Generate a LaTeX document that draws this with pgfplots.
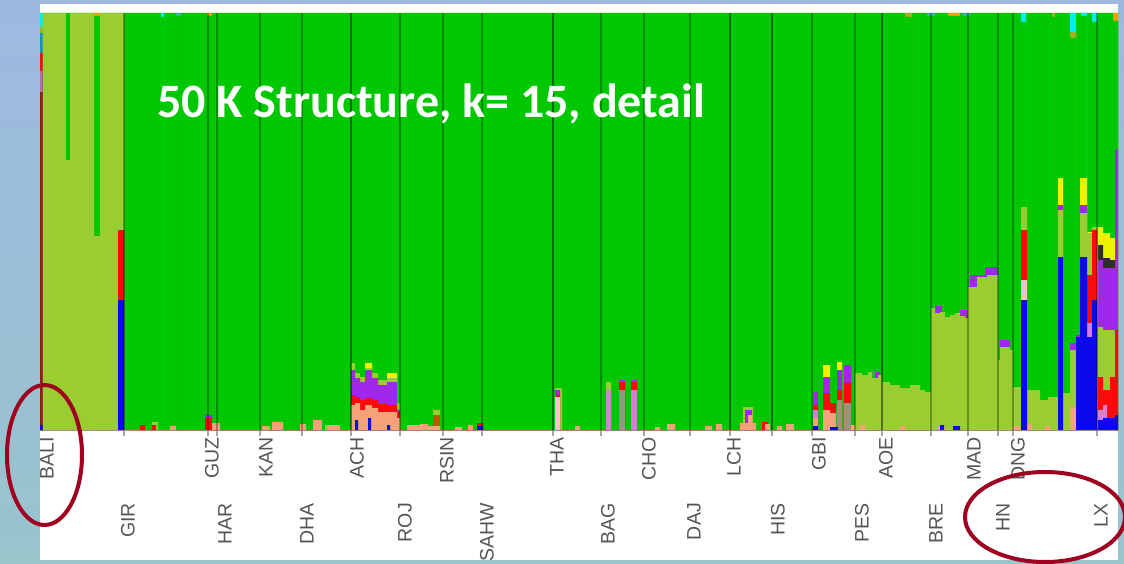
\documentclass[border=0pt]{standalone}
\usepackage{pgfplots}
\pgfplotsset{compat=1.18}
\usepackage{fontspec}
\setmainfont{Liberation Sans}
\newfontfamily\titlefont{Carlito}

\definecolor{sgreen}{RGB}{0,200,0}
\definecolor{syg}{RGB}{154,205,50}
\definecolor{ssalmon}{RGB}{245,162,122}
\definecolor{sred}{RGB}{250,10,10}
\definecolor{sblue}{RGB}{10,10,235}
\definecolor{spurple}{RGB}{160,40,235}
\definecolor{sviolet}{RGB}{215,125,215}
\definecolor{spink}{RGB}{255,190,200}
\definecolor{syellow}{RGB}{235,245,0}
\definecolor{sblack}{RGB}{45,45,45}
\definecolor{staupe}{RGB}{160,144,128}
\definecolor{sbrown}{RGB}{176,96,0}
\definecolor{scyan}{RGB}{0,240,240}
\definecolor{sorange}{RGB}{240,160,0}
\definecolor{solive}{RGB}{160,176,32}
\definecolor{steal}{RGB}{64,176,160}
\definecolor{smauve}{RGB}{176,144,144}
\definecolor{sdarkred}{RGB}{140,32,32}
\definecolor{stealblue}{RGB}{24,144,192}
\definecolor{slilac}{RGB}{176,112,176}
\definecolor{edgered}{RGB}{160,0,32}
\definecolor{bgtop}{RGB}{157,185,225}
\definecolor{bgbot}{RGB}{152,196,204}
\definecolor{labgray}{RGB}{85,85,85}

\pgfplotsset{lay/.style={const plot, draw=none, fill=#1, forget plot}}

\begin{document}
\begin{tikzpicture}[x=1pt,y=1pt,
  lab/.style={rotate=90, anchor=east, inner sep=0pt, text=labgray, font=\fontsize{19.5}{20}\selectfont}]
\useasboundingbox (0,0) rectangle (1124,563);
\clip (0,0) rectangle (1124,563);
\shade[top color=bgtop, bottom color=bgbot] (0,0) rectangle (1124,563);
\fill[white] (40,3) rectangle (1118,559);
\begin{axis}[at={(40,133)}, anchor=south west, scale only axis,
  width=1078pt, height=417pt,
  xmin=40, xmax=1118, ymin=0, ymax=417,
  axis line style={draw=none},
  ytick=\empty,
  xtick={124,208,217,260,302,351,400,443,482,553,601,644,690,730,772,812,855,882,931,968,998,1013,1097},
  xticklabels={}, xtick pos=bottom, tick align=outside,
  major tick length=6pt,
  xtick style={draw=gray!70, line width=1.5pt},
  clip mode=individual]

% background ancestry (green)
\addplot[lay=sgreen] coordinates {(40,417) (1118,417)} \closedcycle;

% small components hanging from the top
\addplot[lay=sorange] coordinates {(94,417)(100,0)(207,417)(212,0)(948,417)(960,0)(1113,417)(1118,0)} \closedcycle;
\addplot[lay=smauve] coordinates {(118,417)(124,0)} \closedcycle;
\addplot[lay=scyan] coordinates {(161,417)(164,0)(1021,417)(1026,0)(1070,417)(1076,0)(1081,417)(1087,0)(1092,417)(1097,0)} \closedcycle;
\addplot[lay=solive] coordinates {(905,417)(912,0)(1052,417)(1055,0)} \closedcycle;
\addplot[lay=steal] coordinates {(176,417)(181,0)(927,417)(935,0)(962,417)(970,0)} \closedcycle;
\addplot[lay=solive] coordinates {(1070,398)(1076,0)} \closedcycle;
\addplot[lay=sgreen] coordinates {(94,414)(100,0)(118,414)(124,0)(161,413)(164,0)(176,414)(181,0)(207,414)(212,0)(905,413)(912,0)(927,414)(935,0)(948,414)(960,0)(962,414)(970,0)(1021,408)(1026,0)(1052,413)(1055,0)(1070,392)(1076,0)(1081,414)(1087,0)(1092,408)(1097,0)(1113,409)(1118,0)} \closedcycle;

% cumulative tops of the other clusters
\addplot[lay=syellow] coordinates {(40,0)(365,67)(372,0)(387,57)(397,0)(823,65)(830,0)(837,68)(842,0)(1058,252)(1063,0)(1080,252)(1087,198)(1092,0)(1098,203)(1103,197)(1110,192)(1115,0)(1118,0)} \closedcycle;
\addplot[lay=sblack] coordinates {(40,0)(1098,185)(1103,172)(1110,170)(1115,0)(1118,0)} \closedcycle;
\addplot[lay=spurple] coordinates {(40,0)(875,58)(880,0)(935,124)(942,0)(960,120)(968,0)(970,155)(985,163)(998,0)(1000,90)(1010,0)(1058,225)(1063,0)(1070,87)(1076,95)(1080,225)(1087,0)(1098,170)(1103,162)(1110,162)(1115,280)(1118,0)} \closedcycle;
\addplot[lay=syg] coordinates {(42,417)(66,270)(70,417)(94,194)(100,417)(124,0)(152,8)(158,0)(262,4)(270,0)(325,5)(340,0)(351,67)(355,57)(360,53)(365,62)(372,57)(378,50)(387,52)(397,27)(400,0)(433,20)(440,0)(555,42)(562,0)(606,48)(611,0)(743,23)(753,0)(855,57)(862,55)(868,58)(872,52)(878,55)(882,48)(890,45)(900,42)(910,45)(920,40)(925,38)(931,122)(935,117)(940,118)(945,113)(950,115)(955,117)(960,114)(965,112)(968,143)(977,153)(987,155)(998,70)(1000,83)(1010,80)(1013,43)(1021,223)(1027,40)(1040,30)(1048,33)(1058,220)(1063,37)(1070,80)(1076,0)(1080,217)(1087,197)(1092,203)(1098,103)(1103,100)(1110,100)(1115,0)(1118,0)} \closedcycle;
\addplot[lay=spurple] coordinates {(40,0)(205,15)(212,0)(351,60)(355,52)(360,48)(365,60)(372,52)(378,45)(387,48)(397,20)(400,0)(555,40)(560,0)(619,50)(625,0)(631,50)(637,0)(745,20)(752,0)(813,38)(818,0)(823,53)(830,0)(837,60)(842,0)(844,65)(851,0)(1118,0)} \closedcycle;
\addplot[lay=sbrown] coordinates {(40,0)(433,15)(440,0)(1118,0)} \closedcycle;
\addplot[lay=sred] coordinates {(40,0)(118,200)(124,0)(140,5)(145,0)(152,5)(156,0)(205,12)(212,0)(351,35)(355,33)(360,30)(365,32)(372,30)(378,26)(387,25)(397,18)(400,0)(477,7)(483,0)(556,35)(560,0)(619,48)(625,0)(631,48)(637,0)(762,8)(768,0)(813,25)(818,0)(823,37)(830,27)(836,0)(837,40)(842,0)(844,47)(851,0)(1021,200)(1027,0)(1087,155)(1092,200)(1097,0)(1098,53)(1103,40)(1110,53)(1115,100)(1118,0)} \closedcycle;
\addplot[lay=sviolet] coordinates {(40,0)(606,40)(611,0)(631,40)(637,0)(813,20)(818,0)(1087,107)(1092,0)(1098,20)(1103,25)(1107,0)(1110,10)(1115,0)(1118,0)} \closedcycle;
\addplot[lay=spink] coordinates {(40,0)(555,33)(560,0)(1021,150)(1027,0)(1118,0)} \closedcycle;
\addplot[lay=staupe] coordinates {(40,0)(619,40)(625,0)(837,30)(842,0)(844,27)(851,0)(1118,0)} \closedcycle;
\addplot[lay=ssalmon] coordinates {(40,0)(170,4)(176,0)(212,7)(220,0)(262,4)(268,0)(272,8)(283,0)(300,6)(306,0)(313,10)(322,0)(328,5)(340,0)(351,25)(355,27)(360,20)(365,25)(372,22)(378,18)(387,18)(397,12)(400,0)(407,5)(420,6)(428,4)(440,0)(455,3)(462,0)(468,5)(473,0)(575,4)(580,0)(655,3)(660,0)(667,6)(675,0)(705,4)(712,0)(716,6)(722,0)(740,7)(748,15)(752,7)(756,0)(765,6)(770,0)(777,4)(782,0)(786,6)(794,0)(813,12)(818,0)(823,20)(830,17)(836,0)(851,5)(855,0)(860,5)(865,0)(900,4)(905,0)(938,4)(945,0)(1013,4)(1020,0)(1027,6)(1032,0)(1045,4)(1050,0)(1070,23)(1076,0)(1118,0)} \closedcycle;
\addplot[lay=sblue] coordinates {(40,0)(118,130)(124,0)(355,10)(358,0)(368,12)(371,0)(387,5)(390,0)(477,4)(483,0)(813,4)(818,0)(830,3)(838,0)(940,5)(944,0)(953,4)(960,0)(1021,130)(1027,0)(1058,173)(1063,0)(1076,93)(1080,173)(1087,93)(1092,130)(1097,0)(1098,10)(1103,12)(1110,12)(1115,15)(1118,0)} \closedcycle;

% first individual (left edge)
\addplot[lay=scyan] coordinates {(40,417)(42.5,417)} \closedcycle;
\addplot[lay=solive] coordinates {(40,403)(42.5,403)} \closedcycle;
\addplot[lay=stealblue] coordinates {(40,397)(42.5,397)} \closedcycle;
\addplot[lay=sred] coordinates {(40,377)(42.5,377)} \closedcycle;
\addplot[lay=slilac] coordinates {(40,359)(42.5,359)} \closedcycle;
\addplot[lay=sdarkred] coordinates {(40,338)(42.5,338)} \closedcycle;
\addplot[lay=sblue] coordinates {(40,5)(42.5,5)} \closedcycle;

% population separators
\pgfplotsinvokeforeach{124,208,217,260,302,400,443,482,601,644,690,812,855,931,968,998,1013,1097}{
  \addplot[black, opacity=0.3, line width=2.8pt, forget plot] coordinates {(#1,0) (#1,417)};
}
\pgfplotsinvokeforeach{351,553,730,772,882}{
  \addplot[black, opacity=0.45, line width=2.8pt, forget plot] coordinates {(#1,0) (#1,417)};
}

% population labels
\node[lab] at (axis cs:47,-7) {BALI};
\node[lab] at (axis cs:212,-7) {GUZ};
\node[lab] at (axis cs:266,-7) {KAN};
\node[lab] at (axis cs:357,-7) {ACH};
\node[lab] at (axis cs:447,-7) {RSIN};
\node[lab] at (axis cs:557,-7) {THA};
\node[lab] at (axis cs:649,-7) {CHO};
\node[lab] at (axis cs:734,-7) {LCH};
\node[lab] at (axis cs:819,-7) {GBI};
\node[lab] at (axis cs:886,-7) {AOE};
\node[lab] at (axis cs:974,-7) {MAD};
\node[lab] at (axis cs:1018,-7) {DNG};
\node[lab] at (axis cs:128,-73) {GIR};
\node[lab] at (axis cs:225,-73) {HAR};
\node[lab] at (axis cs:307,-73) {DHA};
\node[lab] at (axis cs:405,-73) {ROJ};
\node[lab] at (axis cs:487,-73) {SAHW};
\node[lab] at (axis cs:608,-73) {BAG};
\node[lab] at (axis cs:694,-73) {DAJ};
\node[lab] at (axis cs:778,-73) {HIS};
\node[lab] at (axis cs:862,-73) {PES};
\node[lab] at (axis cs:936,-73) {BRE};
\node[lab] at (axis cs:1003,-73) {HN};
\node[lab] at (axis cs:1101,-73) {LX};
\end{axis}
\node[anchor=base west, inner sep=0pt, text=white, font=\titlefont\bfseries\fontsize{48}{50}\selectfont] at (157,445) {50 K Structure, k= 15, detail};
\draw[edgered, line width=4] (44.5,108) ellipse [x radius=37.5, y radius=70];
\draw[edgered, line width=4] (1045,46) ellipse [x radius=80, y radius=45];
\end{tikzpicture}
\end{document}
